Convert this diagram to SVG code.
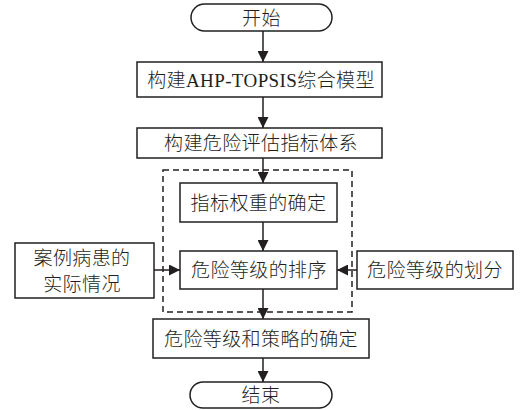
<svg xmlns="http://www.w3.org/2000/svg" width="528" height="410" viewBox="0 0 528 410">
<style>
.n{fill:#fff;stroke:#231f20;stroke-width:1.5}
.t{font-family:"Liberation Serif","Noto Sans CJK SC",serif;font-size:19px;font-weight:300;letter-spacing:0.4px;fill:#231f20;text-anchor:middle;dominant-baseline:central}
.c{stroke:#231f20;stroke-width:1.5;fill:none;marker-end:url(#ah)}
.d{fill:none;stroke:#231f20;stroke-width:1.5;stroke-dasharray:6 4}
</style>
<defs>
<marker id="ah" markerWidth="11" markerHeight="11" refX="11" refY="5.5" orient="auto" markerUnits="userSpaceOnUse">
<path d="M0,0 L11,5.5 L0,11 Z" fill="#231f20"/>
</marker>
</defs>
<rect width="528" height="410" fill="#fff"/>
<g id="group-dashed"><rect class="d" x="163" y="170" width="189" height="142"/></g>
<g id="start"><rect class="n" x="191" y="4" width="141" height="27" rx="13.5"/><text class="t" x="261.5" y="18">开始</text></g>
<g id="model"><rect class="n" x="137" y="62" width="245" height="35"/><text class="t" x="261" y="80">构建AHP-TOPSIS综合模型</text></g>
<g id="index"><rect class="n" x="137" y="128" width="245" height="30"/><text class="t" x="261" y="143.5">构建危险评估指标体系</text></g>
<g id="weight"><rect class="n" x="180" y="183" width="157" height="39"/><text class="t" x="258.5" y="203">指标权重的确定</text></g>
<g id="rank"><rect class="n" x="180" y="251" width="157" height="38"/><text class="t" x="259" y="270.5">危险等级的排序</text></g>
<g id="case"><rect class="n" x="15" y="243" width="139" height="55"/><text class="t" x="82" y="258">案例病患的</text><text class="t" x="82" y="284">实际情况</text></g>
<g id="divide"><rect class="n" x="357" y="251" width="156" height="38"/><text class="t" x="435" y="270.5">危险等级的划分</text></g>
<g id="strategy"><rect class="n" x="153" y="319" width="216" height="39"/><text class="t" x="261" y="339">危险等级和策略的确定</text></g>
<g id="end"><rect class="n" x="190" y="382" width="142" height="26" rx="13"/><text class="t" x="261" y="395.5">结束</text></g>
<g id="connectors">
<line class="c" x1="263" y1="31" x2="263" y2="62"/>
<line class="c" x1="263" y1="97" x2="263" y2="128"/>
<line class="c" x1="263" y1="158" x2="263" y2="183"/>
<line class="c" x1="263" y1="222" x2="263" y2="251"/>
<line class="c" x1="263" y1="289" x2="263" y2="319"/>
<line class="c" x1="263" y1="358" x2="263" y2="382"/>
<line class="c" x1="154" y1="270" x2="180" y2="270"/>
<line class="c" x1="357" y1="270" x2="337" y2="270"/>
</g>
</svg>
